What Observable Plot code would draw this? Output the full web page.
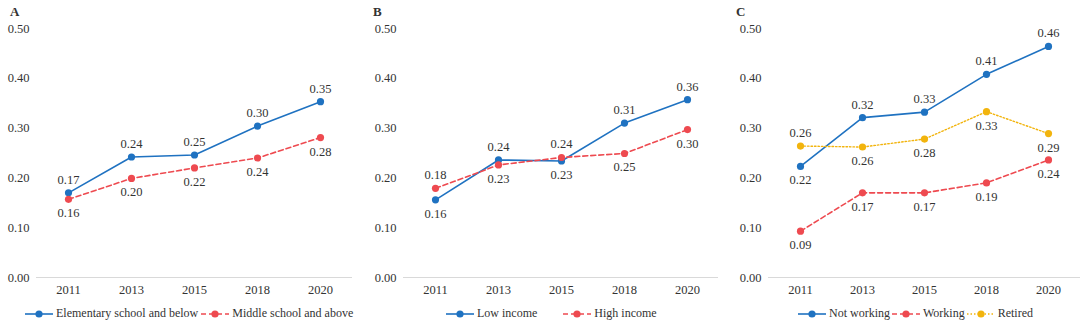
<!DOCTYPE html>
<html>
<head>
<meta charset="utf-8">
<script src="https://cdn.jsdelivr.net/npm/d3@7"></script>
<script src="https://cdn.jsdelivr.net/npm/@observablehq/plot@0.6"></script>
<style>
  html, body { margin: 0; padding: 0; background: #fff; }
  body { width: 1080px; height: 327px; overflow: hidden; font-family: "Times New Roman", "Liberation Serif", "DejaVu Serif", serif; color: #404040; }
  #row { display: flex; width: 1080px; }
  .panel { position: relative; width: 360px; height: 327px; }
  .panel svg text { font-family: "Times New Roman", "Liberation Serif", "DejaVu Serif", serif; }
  .letter { position: absolute; top: 4px; font-size: 13px; font-weight: bold; color: #333; }
  .legend { position: absolute; top: 306px; display: flex; align-items: center; font-size: 12px; color: #333; white-space: nowrap; }
  .legend .item { display: flex; align-items: center; }
  .legend svg { display: block; margin-right: 3px; }
</style>
</head>
<body>
<div id="row"></div>
<script>
const years = ["2011", "2013", "2015", "2018", "2020"];
const yTicks = [0, 0.1, 0.2, 0.3, 0.4, 0.5];

// Panel A: education
const eduElementary = [0.170, 0.242, 0.246, 0.304, 0.353];
const eduMiddle     = [0.157, 0.199, 0.220, 0.240, 0.281];
// Panel B: income
const incLow  = [0.156, 0.236, 0.234, 0.310, 0.357];
const incHigh = [0.179, 0.226, 0.241, 0.249, 0.297];
// Panel C: work status
const workNot     = [0.223, 0.321, 0.332, 0.408, 0.464];
const workYes     = [0.093, 0.170, 0.170, 0.190, 0.236];
const workRetired = [0.264, 0.262, 0.278, 0.333, 0.289];

// label placement (a = above, b = below)
const placeEduElementary = ["a", "a", "a", "a", "a"];
const placeEduMiddle     = ["b", "b", "b", "b", "b"];
const placeIncLow        = ["b", "a", "b", "a", "a"];
const placeIncHigh       = ["a", "b", "a", "b", "b"];
const placeWorkNot       = ["b", "a", "a", "a", "a"];
const placeWorkYes       = ["b", "b", "b", "b", "b"];
const placeWorkRetired   = ["a", "b", "b", "b", "b"];

const blue = "#1f72c1", red = "#ee4a50", yellow = "#f2b40d";
const solid = null, dashed = "5,3", dotted = "1.5,2";
const serif = '"Times New Roman", "Liberation Serif", "DejaVu Serif", serif';

const panels = [
  { letter: "A", left: 36, right: 8, letterX: 10, legendX: 25,
    series: [
      { name: "Elementary school and below", values: eduElementary, place: placeEduElementary, color: blue, dash: solid },
      { name: "Middle school and above", values: eduMiddle, place: placeEduMiddle, color: red, dash: dashed }
    ], gaps: [3] },
  { letter: "B", left: 43, right: 2, letterX: 13, legendX: 86,
    series: [
      { name: "Low income", values: incLow, place: placeIncLow, color: blue, dash: solid },
      { name: "High income", values: incHigh, place: placeIncHigh, color: red, dash: dashed }
    ], gaps: [26] },
  { letter: "C", left: 48, right: 0, letterX: 16, legendX: 78,
    series: [
      { name: "Not working", values: workNot, place: placeWorkNot, color: blue, dash: solid },
      { name: "Working", values: workYes, place: placeWorkYes, color: red, dash: dashed },
      { name: "Retired", values: workRetired, place: placeWorkRetired, color: yellow, dash: dotted }
    ], gaps: [2, 2] }
];

const row = document.getElementById("row");

for (const p of panels) {
  const div = document.createElement("div");
  div.className = "panel";
  row.appendChild(div);

  const rows = [];
  p.series.forEach(s => {
    years.forEach((yr, i) => rows.push({ series: s.name, year: yr, value: s.values[i], place: s.place[i], color: s.color }));
  });

  const marks = [Plot.ruleY([0], { stroke: "#d9d9d9", strokeWidth: 1 })];
  p.series.forEach(s => {
    const d = rows.filter(r => r.series === s.name);
    marks.push(Plot.line(d, { x: "year", y: "value", stroke: s.color, strokeWidth: s.dash === dotted ? 1.4 : 1.6, strokeDasharray: s.dash || undefined }));
  });
  p.series.forEach(s => {
    const d = rows.filter(r => r.series === s.name);
    marks.push(Plot.dot(d, { x: "year", y: "value", r: 3.6, fill: s.color, stroke: "none" }));
  });
  marks.push(Plot.text(rows.filter(r => r.place === "a"), { x: "year", y: "value", text: r => r.value.toFixed(2), dy: -13, fill: "#333", fontSize: 12.5 }));
  marks.push(Plot.text(rows.filter(r => r.place === "b"), { x: "year", y: "value", text: r => r.value.toFixed(2), dy: 14, fill: "#333", fontSize: 12.5 }));

  const chart = Plot.plot({
    width: 360,
    height: 300,
    marginLeft: p.left,
    marginRight: p.right,
    marginTop: 28,
    marginBottom: 23,
    style: { fontFamily: serif, fontSize: "12.5px", color: "#333", background: "transparent" },
    x: { type: "point", domain: years, padding: 0.5, label: null, tickSize: 0, tickPadding: 8 },
    y: { domain: [0, 0.5], ticks: yTicks, tickFormat: d => d.toFixed(2), label: null, tickSize: 0, tickPadding: 7 },
    marks
  });
  chart.style.display = "block";
  div.appendChild(chart);

  const letter = document.createElement("div");
  letter.className = "letter";
  letter.style.left = p.letterX + "px";
  letter.textContent = p.letter;
  div.appendChild(letter);

  const legend = document.createElement("div");
  legend.className = "legend";
  legend.style.left = p.legendX + "px";
  p.series.forEach((s, i) => {
    const item = document.createElement("div");
    item.className = "item";
    if (i > 0) item.style.marginLeft = p.gaps[i - 1] + "px";
    const sw = d3.create("svg").attr("width", 28).attr("height", 12);
    sw.append("line").attr("x1", 0).attr("x2", 28).attr("y1", 6).attr("y2", 6)
      .attr("stroke", s.color).attr("stroke-width", 1.6)
      .attr("stroke-dasharray", s.dash || null);
    sw.append("circle").attr("cx", 14).attr("cy", 6).attr("r", 3.6).attr("fill", s.color);
    item.appendChild(sw.node());
    const t = document.createElement("span");
    t.textContent = s.name;
    item.appendChild(t);
    legend.appendChild(item);
  });
  div.appendChild(legend);
}
</script>
</body>
</html>
